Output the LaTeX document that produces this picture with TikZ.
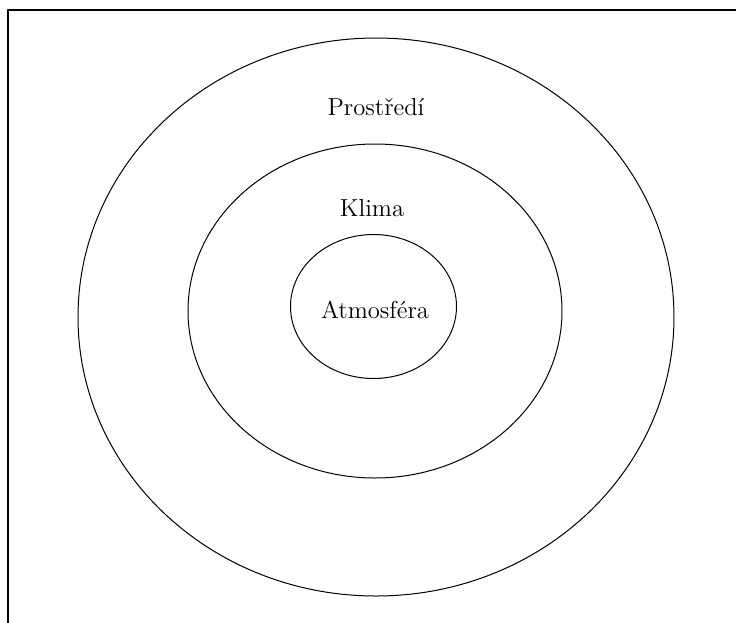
\documentclass[tikz,border=0pt]{standalone}
\usepackage{pgf,tikz}
\usetikzlibrary{arrows}
\tikzset{popis/.style={font=\fontsize{12.3}{15}\selectfont,inner sep=0pt}}
\begin{document}
\begin{tikzpicture}[line cap=round,line join=round,x=0.5pt,y=-0.5pt]
      \useasboundingbox (0,0) rectangle (736,623);
      \draw[color=black,line width=0.7pt] (8,623) -- (8,10) -- (736,10);
      \draw[color=black,line width=0.5pt] (376,317) ellipse [x radius=149pt,y radius=139.5pt];
      \draw[color=black,line width=0.5pt] (375,311) ellipse [x radius=93.5pt,y radius=83.5pt];
      \draw[color=black,line width=0.5pt] (373.5,306.5) ellipse [x radius=41.5pt,y radius=36pt];
      \node[popis] (prostredi) at (376,107) {Prostředí};
      \node[popis] (klima) at (372,208) {Klima};
      \node[popis] (atmosfera) at (375,310) {Atmosféra};
    \end{tikzpicture}
\end{document}
